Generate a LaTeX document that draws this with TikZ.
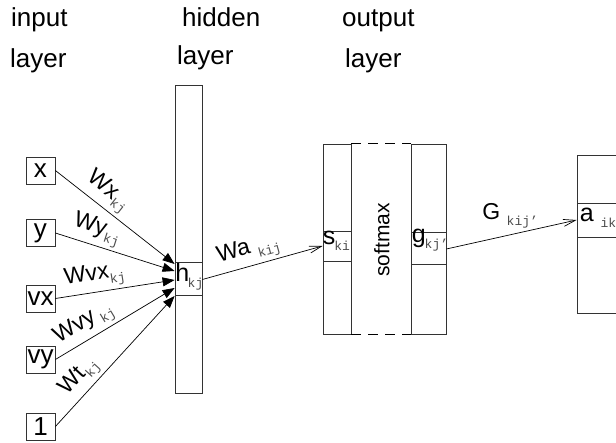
\documentclass[tikz,border=0pt]{standalone}
\usepackage{fontspec}
\setmainfont{Liberation Sans}
\newfontfamily\monof{Liberation Mono}
\usetikzlibrary{arrows.meta,calc}
\newcommand\subs[1]{\raisebox{-6pt}{\fontsize{13}{13}\selectfont\monof\color{black!70}#1}}
\begin{document}
\begin{tikzpicture}[x=1pt,y=-1pt,
  head/.style={font=\fontsize{26}{28}\selectfont, anchor=base west, inner sep=0pt},
  big/.style={font=\fontsize{26}{28}\selectfont},
  mid/.style={font=\fontsize{23}{24}\selectfont},
  cellfont/.style={font=\fontsize{25}{26}\selectfont},
  inbox/.style={draw=black!80, line width=0.8pt, inner sep=0pt, minimum width=29pt, minimum height=27pt, big},
  col/.style={draw=black!80, line width=0.8pt, inner sep=0pt},
  inarrow/.style={draw, line width=0.7pt, -{Triangle[length=12pt,width=9pt]}},
  openarrow/.style={draw, line width=0.7pt, -{Straight Barb[length=12pt,width=7pt]}},
  wlabel/.style={mid, sloped, above=3pt, inner sep=0pt},
  cellname/.style={cellfont, anchor=base west, inner sep=0pt},
]
\useasboundingbox (0,0) rectangle (616,443);
\clip (0,0) rectangle (616,443);

% headings
\node[head] (t1) at (11,27) {input};
\node[head] (t2) at (10,68) {layer};
\node[head] (t3) at (182,27) {hidden};
\node[head] (t4) at (177,65) {layer};
\node[head] (t5) at (342,27) {output};
\node[head] (t6) at (345,68) {layer};

% input boxes
\node[inbox] (x)  at (40.5,170.5) {x};
\node[inbox] (y)  at (40.5,233) {y};
\node[inbox] (vx) at (40.5,298.5) {vx};
\node[inbox] (vy) at (40.5,359.5) {vy};
\node[inbox] (one) at (40.5,426.5) {1};

% hidden layer
\node[col, minimum width=27pt, minimum height=308pt] (hcol) at (188.5,239) {};
\node[col, minimum width=27pt, minimum height=33pt] (h) at (188.5,278.5) {};
\node[cellname] (hl) at ($(h.west)+(0.5,3)$) {h\kern-1.5pt\subs{kj}};

% output layer
\node[col, minimum width=28pt, minimum height=190pt] (ocol1) at (337,239) {};
\node[col, minimum width=28pt, minimum height=30pt] (s) at (337,246) {};
\node[cellname] (sl) at ($(s.west)+(0,-1)$) {s\kern-1pt\subs{ki}};
\node[col, minimum width=35pt, minimum height=190pt] (ocol2) at (428.5,239) {};
\node[col, minimum width=35pt, minimum height=32pt] (g) at (428.5,248) {};
\node[cellname] (gl) at ($(g.west)+(1,-5)$) {g\kern-1pt\subs{kj’}};
\draw[line width=1.3pt, dash pattern=on 10pt off 7pt] (ocol1.north east) -- (ocol2.north west);
\draw[line width=1.3pt, dash pattern=on 10pt off 7pt] (ocol1.south east) -- (ocol2.south west);
\node[font=\fontsize{21}{23}\selectfont, rotate=90, inner sep=0pt] (sm) at (382,240) {softmax};

% right column
\node[col, minimum width=46pt, minimum height=158pt] (acol) at (600,234) {};
\node[col, minimum width=46pt, minimum height=34pt] (a) at (600,220) {};
\node[cellname] (al) at ($(a.west)+(3,2)$) {a\ \subs{ik}};

% connectors
\draw[inarrow] (x.east) -- ($(h.west)+(0,-14.5)$) node[wlabel, pos=0.36] {Wx\subs{kj}};
\draw[inarrow] (y.east) -- ($(h.west)+(0,-7.5)$) node[wlabel, pos=0.31] {Wy\subs{kj}};
\draw[inarrow] (vx.east) -- ($(h.west)+(0,1.5)$) node[wlabel, pos=0.35] {Wvx\subs{kj}};
\draw[inarrow] (vy.east) -- ($(h.west)+(0,9.5)$) node[wlabel, pos=0.31] {Wvy\,\subs{kj}};
\draw[inarrow] (one.east) -- ($(h.west)+(0,17.5)$) node[wlabel, pos=0.3] {Wt\subs{kj}};
\draw[openarrow] ($(h.east)+(0,1)$) -- (s.west) node[wlabel, pos=0.42] {Wa\ \subs{kij}};
\draw[openarrow] ($(g.east)+(0,1)$) -- (a.west) node[mid, pos=0.49, above=6pt, inner sep=0pt] {G\ \subs{kij’}};
\end{tikzpicture}
\end{document}
